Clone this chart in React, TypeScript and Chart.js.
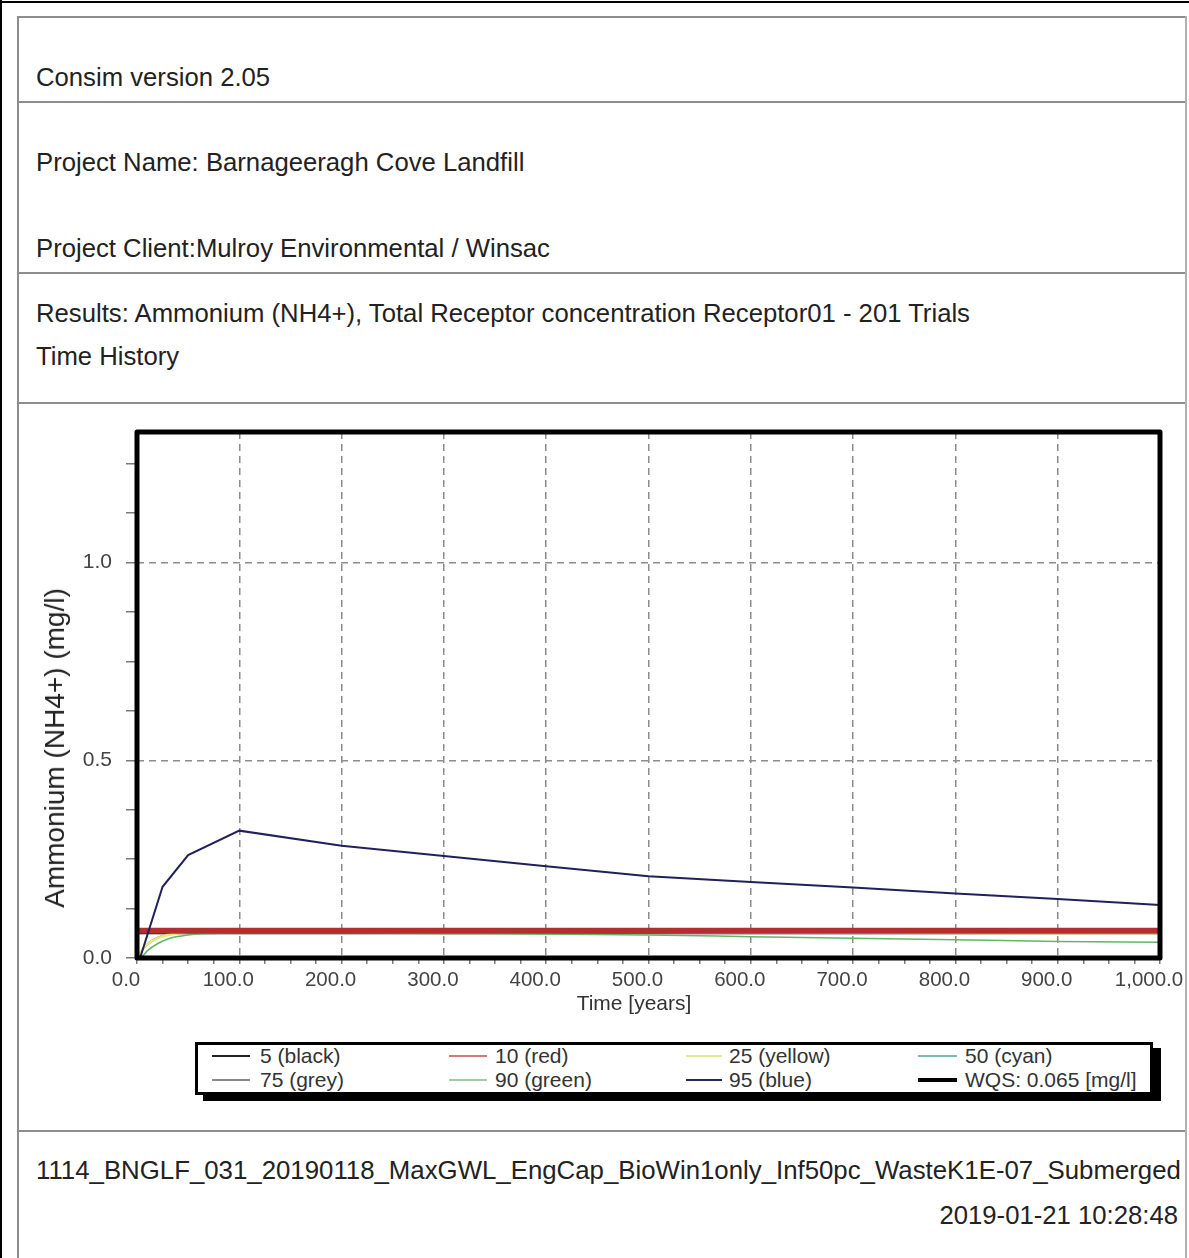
import React, { useEffect, useRef } from "react";
import { Chart, registerables } from "chart.js";

Chart.register(...registerables);

// ---- Data ----
const p5Years = [0, 1000];
const p5Values = [0, 0];

const p10Years = [0, 1000];
const p10Values = [0.069, 0.069];

const p25Years = [0, 5, 10, 20, 30, 50, 100, 300, 500, 700, 1000];
const p25Values = [0, 0.02, 0.035, 0.05, 0.058, 0.065, 0.067, 0.066, 0.065, 0.064, 0.063];

const p50Years = [0, 5, 10, 20, 30, 50, 100, 500, 1000];
const p50Values = [0, 0.018, 0.033, 0.05, 0.058, 0.064, 0.066, 0.066, 0.065];

const p75Years = [0, 5, 10, 20, 30, 50, 100, 500, 1000];
const p75Values = [0, 0.02, 0.036, 0.052, 0.06, 0.065, 0.067, 0.067, 0.066];

const p90Years = [0, 5, 10, 20, 30, 50, 75, 100, 200, 300, 400, 500, 600, 700, 800, 900, 1000];
const p90Values = [0, 0.004, 0.018, 0.036, 0.048, 0.058, 0.062, 0.063, 0.063, 0.062, 0.061, 0.058, 0.054, 0.05, 0.046, 0.042, 0.04];

const p95Years = [0, 3, 25, 50, 100, 200, 300, 400, 500, 600, 700, 800, 900, 1000];
const p95Values = [0, 0, 0.18, 0.26, 0.322, 0.284, 0.258, 0.232, 0.207, 0.192, 0.178, 0.163, 0.149, 0.134];

const wqsYears = [0, 1000];
const wqsValues = [0.065, 0.065];

const xMajorTicks = [0, 100, 200, 300, 400, 500, 600, 700, 800, 900, 1000];
const xTickLabels = ["0.0", "100.0", "200.0", "300.0", "400.0", "500.0", "600.0", "700.0", "800.0", "900.0", "1,000.0"];
const yMajorTicks = [0, 0.5, 1.0];
const yTickLabels = ["0.0", "0.5", "1.0"];

const legendLabels = ["5 (black)", "10 (red)", "25 (yellow)", "50 (cyan)", "75 (grey)", "90 (green)", "95 (blue)", "WQS: 0.065 [mg/l]"];

const FONT = "'Liberation Sans', Arial, Helvetica, sans-serif";

const pts = (xs: number[], ys: number[]) => xs.map((x, i) => ({ x, y: ys[i] }));

const framePlugin = {
  id: "frame",
  afterDraw(chart: any) {
    const { ctx, chartArea } = chart;
    const { left, top, right, bottom } = chartArea;
    ctx.save();
    ctx.strokeStyle = "#000";
    ctx.lineWidth = 5;
    ctx.lineJoin = "round";
    ctx.strokeRect(left, top, right - left, bottom - top);
    ctx.restore();
  },
};

const CANVAS_TOP = 410;
const CANVAS_H = 620;

export default function App() {
  const ref = useRef<HTMLCanvasElement | null>(null);

  useEffect(() => {
    if (!ref.current) return;
    const line = (label: string, xs: number[], ys: number[], color: string, width: number, mono = false) => ({
      label,
      data: pts(xs, ys),
      borderColor: color,
      backgroundColor: color,
      borderWidth: width,
      pointRadius: 0,
      fill: false,
      tension: 0,
      cubicInterpolationMode: mono ? "monotone" : "default",
    });
    const chart = new Chart(ref.current, {
      type: "line",
      data: {
        datasets: [
          line("5 (black)", p5Years, p5Values, "#000000", 3),
          line("95 (blue)", p95Years, p95Values, "#20205c", 2),
          line("10 (red)", p10Years, p10Values, "#b32e2e", 6),
          line("25 (yellow)", p25Years, p25Values, "#e9e97a", 2.5, true),
          line("90 (green)", p90Years, p90Values, "#62b862", 1.5, true),
          line("50 (cyan)", p50Years, p50Values, "#5fbcb8", 1.5, true),
          line("75 (grey)", p75Years, p75Values, "#8a8a8a", 1.5, true),
          line("WQS: 0.065 [mg/l]", wqsYears, wqsValues, "#000000", 4),
        ] as any,
      },
      options: {
        animation: false,
        responsive: false,
        maintainAspectRatio: false,
        layout: { padding: { top: 22, right: 29, left: 0, bottom: 0 } },
        plugins: { legend: { display: false }, tooltip: { enabled: false }, title: { display: false } },
        scales: {
          x: {
            type: "linear",
            min: 0,
            max: 1000,
            afterFit: (s: any) => {
              s.height = 72;
              s.paddingLeft = 0;
              s.paddingRight = 0;
            },
            border: { display: false, dash: [7, 5] },
            grid: {
              color: (c: any) =>
                c.tick && xMajorTicks.includes(c.tick.value) && c.tick.value !== 0 && c.tick.value !== 1000 ? "#8c8c8c" : "rgba(0,0,0,0)",
              lineWidth: 1.5,
              tickColor: "#7a7a7a",
              tickLength: 6,
              tickBorderDash: [],
            } as any,
            ticks: {
              stepSize: 25,
              autoSkip: false,
              maxRotation: 0,
              minRotation: 0,
              includeBounds: false,
              padding: 4,
              labelOffset: -11,
              color: "#444",
              font: { family: FONT, size: 20.5 },
              callback: (v: any) => {
                const i = xMajorTicks.indexOf(Number(v));
                return i >= 0 ? xTickLabels[i] : "";
              },
            },
          },
          y: {
            type: "linear",
            min: 0,
            max: 1.33,
            afterFit: (s: any) => {
              s.width = 137;
              s.paddingTop = 0;
              s.paddingBottom = 0;
            },
            border: { display: false, dash: [7, 5] },
            grid: {
              color: (c: any) =>
                c.tick && (c.tick.value === 0.5 || c.tick.value === 1) ? "#8c8c8c" : "rgba(0,0,0,0)",
              lineWidth: 1.5,
              tickColor: "#7a7a7a",
              tickLength: 11,
              tickBorderDash: [],
            } as any,
            ticks: {
              stepSize: 0.125,
              autoSkip: false,
              includeBounds: false,
              padding: 14,
              color: "#444",
              font: { family: FONT, size: 21 },
              callback: (v: any) => {
                const i = yMajorTicks.findIndex((t) => Math.abs(t - Number(v)) < 1e-9);
                return i >= 0 ? yTickLabels[i] : "";
              },
            },
          },
        },
      } as any,
      plugins: [framePlugin],
    });
    return () => chart.destroy();
  }, []);

  const hLine = (top: number) => (
    <div style={{ position: "absolute", left: 18, right: 4, top, height: 2, background: "#8d8d8d" }} />
  );
  const text = (t: string, top: number, size = 25.7, extra: React.CSSProperties = {}) => (
    <div
      style={{
        position: "absolute",
        left: 36,
        top: top - 15,
        height: 30,
        lineHeight: "30px",
        fontSize: size,
        color: "#222",
        whiteSpace: "nowrap",
        ...extra,
      }}
    >
      {t}
    </div>
  );

  const legendCols = [
    { lineX: 212, lineW: 38, textX: 260 },
    { lineX: 449, lineW: 38, textX: 495 },
    { lineX: 686, lineW: 36, textX: 729 },
    { lineX: 918, lineW: 39, textX: 965 },
  ];
  const legendColors = ["#222", "#d27a7a", "#e8e890", "#7cbcb0", "#8a8a8a", "#9dcc9d", "#26265e", "#000"];
  const legendWidths = [2, 2, 2, 2, 2, 2, 2, 4];

  return (
    <div
      style={{
        position: "absolute",
        left: 0,
        top: 0,
        width: 1189,
        height: 1258,
        background: "#fff",
        fontFamily: FONT,
        overflow: "hidden",
      }}
    >
      {/* outer border */}
      <div style={{ position: "absolute", left: 0, top: 1, width: 1189, height: 2, background: "#000" }} />
      <div style={{ position: "absolute", left: 0, top: 0, width: 2, height: 1258, background: "#000" }} />
      {/* inner panel */}
      <div style={{ position: "absolute", left: 17, top: 16, width: 2, height: 1242, background: "#8d8d8d" }} />
      <div style={{ position: "absolute", left: 1185, top: 16, width: 2, height: 1242, background: "#b0b0b0" }} />
      {hLine(16)}
      {hLine(101)}
      {hLine(272)}
      {hLine(402)}
      {hLine(1130)}

      {text("Consim version 2.05", 77)}
      {text("Project Name: Barnageeragh Cove Landfill", 162)}
      {text("Project Client:Mulroy Environmental / Winsac", 248)}
      {text("Results: Ammonium (NH4+), Total Receptor concentration Receptor01 - 201 Trials", 313)}
      {text("Time History", 356)}
      {text("1114_BNGLF_031_20190118_MaxGWL_EngCap_BioWin1only_Inf50pc_WasteK1E-07_Submerged", 1170, 25.8)}
      {text("2019-01-21 10:28:48", 1215, 25.7, { left: "auto", right: 11 })}

      <canvas
        ref={ref}
        width={1189}
        height={CANVAS_H}
        style={{ position: "absolute", left: 0, top: CANVAS_TOP, width: 1189, height: CANVAS_H }}
      />

      {/* axis titles */}
      <div
        style={{
          position: "absolute",
          left: 55,
          top: 748,
          transform: "translate(-50%, -50%) rotate(-90deg)",
          fontSize: 28,
          color: "#222",
          whiteSpace: "nowrap",
          lineHeight: "32px",
        }}
      >
        Ammonium (NH4+) (mg/l)
      </div>
      <div
        style={{
          position: "absolute",
          left: 634,
          top: 1003,
          transform: "translate(-50%, -50%)",
          fontSize: 21,
          color: "#333",
          whiteSpace: "nowrap",
          lineHeight: "24px",
        }}
      >
        Time [years]
      </div>

      {/* legend */}
      <div
        style={{
          position: "absolute",
          left: 195,
          top: 1042,
          width: 952,
          height: 47,
          border: "3px solid #000",
          boxShadow: "8px 6px 0 #000",
          background: "#fff",
        }}
      />
      {legendLabels.map((lab, i) => {
        const col = legendCols[i % 4];
        const cy = i < 4 ? 1056 : 1080;
        return (
          <React.Fragment key={lab}>
            <div
              style={{
                position: "absolute",
                left: col.lineX,
                top: cy - legendWidths[i] / 2,
                width: col.lineW,
                height: legendWidths[i],
                background: legendColors[i],
              }}
            />
            <div
              style={{
                position: "absolute",
                left: col.textX,
                top: cy - 12,
                height: 24,
                lineHeight: "24px",
                fontSize: 21,
                color: "#333",
                whiteSpace: "nowrap",
              }}
            >
              {lab}
            </div>
          </React.Fragment>
        );
      })}
    </div>
  );
}
